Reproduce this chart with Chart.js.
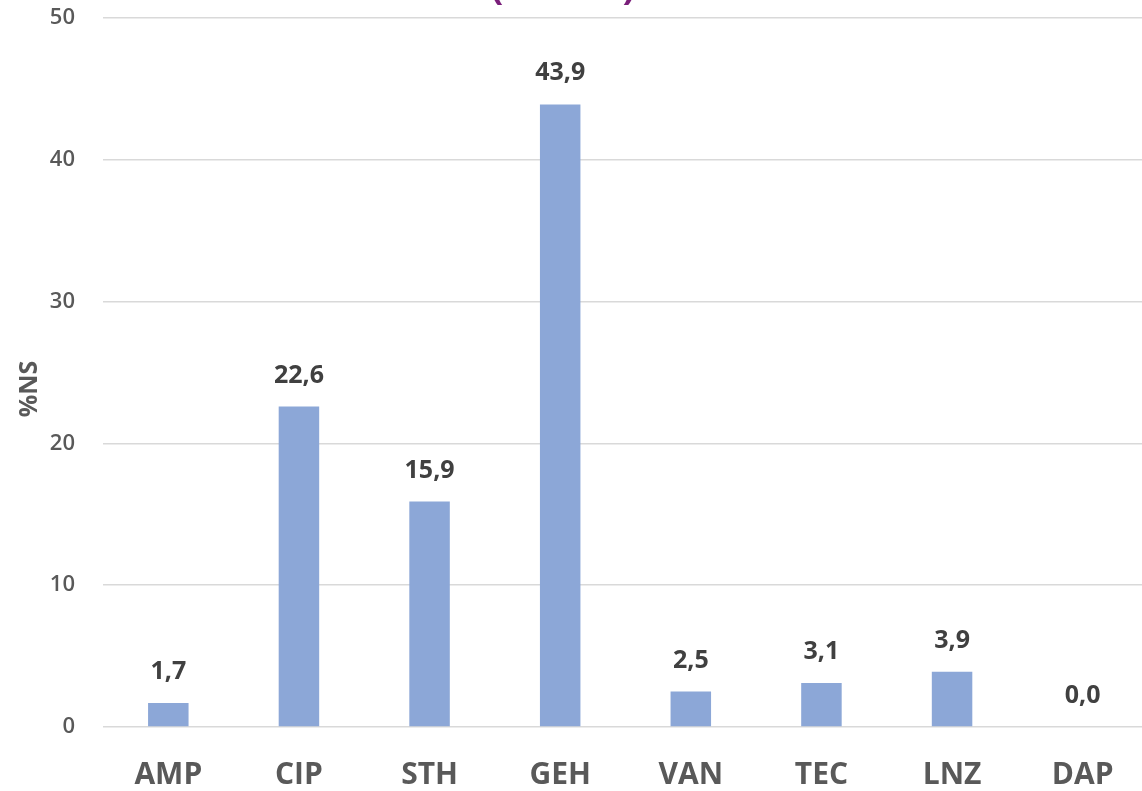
<!DOCTYPE html>
<html>
<head>
<meta charset="utf-8">
<script src="https://cdn.jsdelivr.net/npm/chart.js@4/dist/chart.umd.min.js"></script>
<style>
  html, body { margin: 0; padding: 0; background: #fff; overflow: hidden; }
  #wrap { width: 1148px; height: 791px; position: relative; }
</style>
</head>
<body>
<div id="wrap"><canvas id="c"></canvas></div>
<script>
const categories = ['AMP', 'CIP', 'STH', 'GEH', 'VAN', 'TEC', 'LNZ', 'DAP'];
const values = [1.7, 22.6, 15.9, 43.9, 2.5, 3.1, 3.9, 0.0];
const yTicks = [0, 10, 20, 30, 40, 50];
const yTitle = '%NS';

const labelPlugin = {
  id: 'labels',
  afterDatasetsDraw(chart) {
    const ctx = chart.ctx;
    const meta = chart.getDatasetMeta(0);
    ctx.save();
    ctx.font = 'bold 25px "Open Sans"';
    ctx.fillStyle = '#404040';
    ctx.textAlign = 'center';
    ctx.textBaseline = 'alphabetic';
    meta.data.forEach((bar, i) => {
      const txt = values[i].toFixed(1).replace('.', ',');
      ctx.fillText(txt, bar.x, bar.y - 24);
    });
    // y axis title
    ctx.translate(30, 389);
    ctx.rotate(-Math.PI / 2);
    ctx.font = 'bold 25px "Open Sans"';
    ctx.fillStyle = '#595959';
    ctx.textBaseline = 'middle';
    ctx.fillText(yTitle, 0, 0);
    ctx.restore();
    // clipped title fragment
    ctx.save();
    ctx.font = 'bold 38px "Open Sans"';
    ctx.fillStyle = '#7a1f7a';
    ctx.textAlign = 'center';
    ctx.fillText('(', 497, -1);
    ctx.fillText(')', 629, -1);
    ctx.restore();
  }
};

new Chart(document.getElementById('c'), {
  type: 'bar',
  data: {
    labels: categories,
    datasets: [{
      data: values,
      backgroundColor: '#8ca7d7',
      borderWidth: 0,
      barPercentage: 0.62,
      categoryPercentage: 0.5
    }]
  },
  options: {
    responsive: true,
    maintainAspectRatio: false,
    animation: false,
    layout: { padding: { top: 18, left: 0, right: 0, bottom: 0 } },
    plugins: { legend: { display: false }, tooltip: { enabled: false } },
    scales: {
      x: {
        grid: { display: false, drawTicks: false },
        border: { display: false },
        ticks: {
          color: '#595959',
          font: { family: '"Open Sans"', size: 30, weight: '700' },
          padding: 30,
          maxRotation: 0
        },
        afterFit(s) { s.height = 64; s.paddingLeft = 0; s.paddingRight = 0; }
      },
      y: {
        min: 0, max: 50,
        afterBuildTicks(s) { s.ticks = yTicks.map(v => ({ value: v })); },
        grid: { color: '#d9d9d9', lineWidth: 1.5, drawTicks: false },
        border: { display: false },
        ticks: {
          color: '#595959',
          font: { family: '"Open Sans"', size: 22, weight: '600' },
          padding: 28
        },
        afterFit(s) { s.width = 103; s.paddingTop = 0; s.paddingBottom = 0; }
      }
    }
  },
  plugins: [labelPlugin]
});
</script>
</body>
</html>
